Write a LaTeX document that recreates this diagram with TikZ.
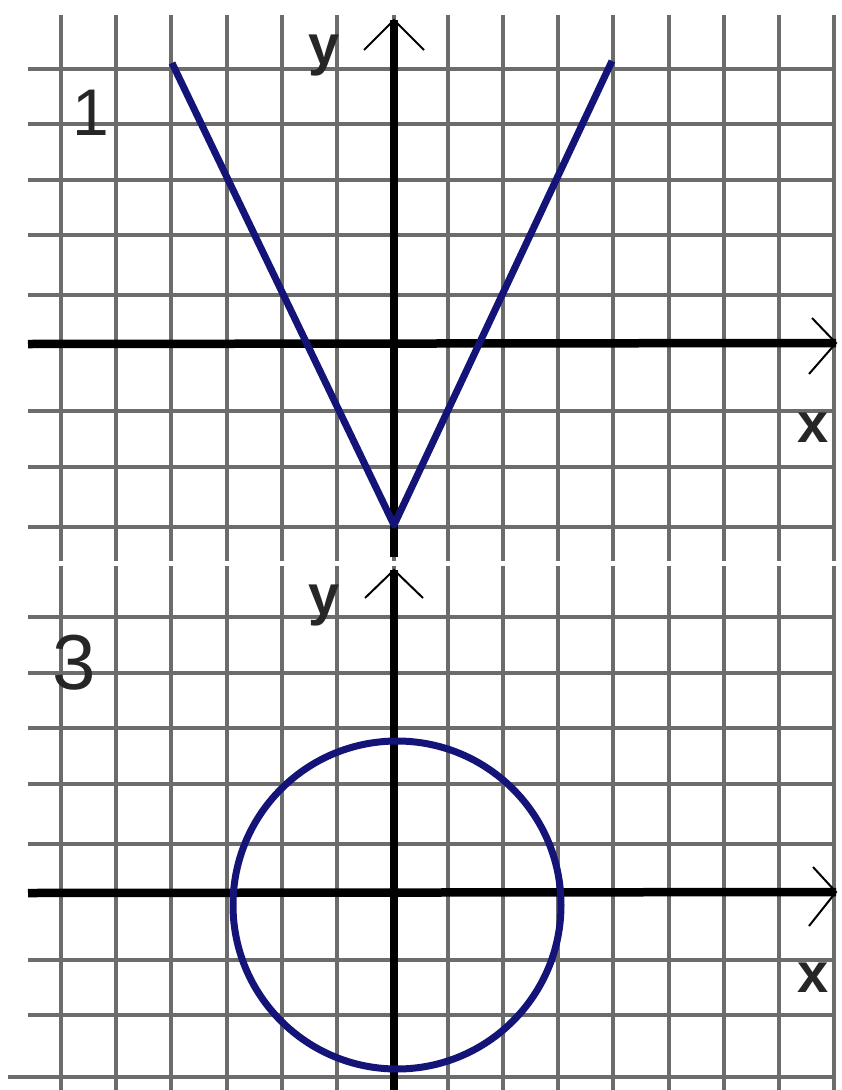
\documentclass[tikz,border=0pt]{standalone}
\usepackage{fontspec}
\setmainfont{Liberation Sans}
\definecolor{gridgray}{RGB}{108,108,108}
\definecolor{curveblue}{RGB}{20,20,120}
\tikzset{
  gridline/.style={draw=gridgray,line width=3.3pt},
  axisline/.style={draw=black,line width=8.5pt},
  arrowwing/.style={draw=black,line width=2pt},
  graphline/.style={draw=curveblue,line width=7pt,line join=round},
  axislabel/.style={inner sep=0pt,text=black!85,
    font=\fontsize{56}{60}\selectfont\bfseries},
  panelnum/.style={inner sep=0pt,text=black!85}
}

\begin{document}
\begin{tikzpicture}[x=1pt,y=-1pt]
  \useasboundingbox (0,0) rectangle (842,1090);
  \fill[white] (0,0) rectangle (842,1090);
  % panel 1
  \foreach \x in {61,116,171,227,282,337,394,448,503,558,613,669,724,779,834}
    \draw[gridline] (\x,15) -- (\x,561);
  \foreach \y in {69,124,180,235,295,344,411,467,527}
    \draw[gridline] (28,\y) -- (834,\y);
  \coordinate (xtipA) at (836,343);
  \coordinate (ytipA) at (394,20);
  \draw[axisline] (28,344) -- (xtipA);
  \draw[axisline] (394,557) -- (ytipA);
  \draw[arrowwing] (812,318) -- (xtipA) -- (809,374);
  \draw[arrowwing] (364,50) -- (ytipA) -- (424,50);
  \draw[graphline] (172,63) -- (394,525) -- (612,61);
  \node[axislabel] (ylabA) at (324,56) {y};
  \node[axislabel] (xlabA) at (813,428) {x};
  \node[panelnum,font=\fontsize{66}{70}\selectfont] (numA) at (91,113) {1};
  % panel 3
  \foreach \x in {61,116,171,227,282,337,394,448,503,558,613,669,724,779,834}
    \draw[gridline] (\x,566) -- (\x,1090);
  \foreach \y in {617,673,728,784,844,893,960,1015}
    \draw[gridline] (28,\y) -- (834,\y);
  \draw[gridline] (8,1077) -- (834,1077);
  \coordinate (xtipB) at (836,892);
  \coordinate (ytipB) at (394,570);
  \draw[axisline] (28,893) -- (xtipB);
  \draw[axisline] (394,1090) -- (ytipB);
  \draw[arrowwing] (813,867) -- (xtipB) -- (809,926);
  \draw[arrowwing] (365,598) -- (ytipB) -- (423,598);
  \draw[graphline] (397,905) circle[radius=164];
  \node[axislabel] (ylabB) at (324,606) {y};
  \node[axislabel] (xlabB) at (813,978) {x};
  \node[panelnum,font=\fontsize{78}{82}\selectfont] (numB) at (74,663) {3};
\end{tikzpicture}
\end{document}
